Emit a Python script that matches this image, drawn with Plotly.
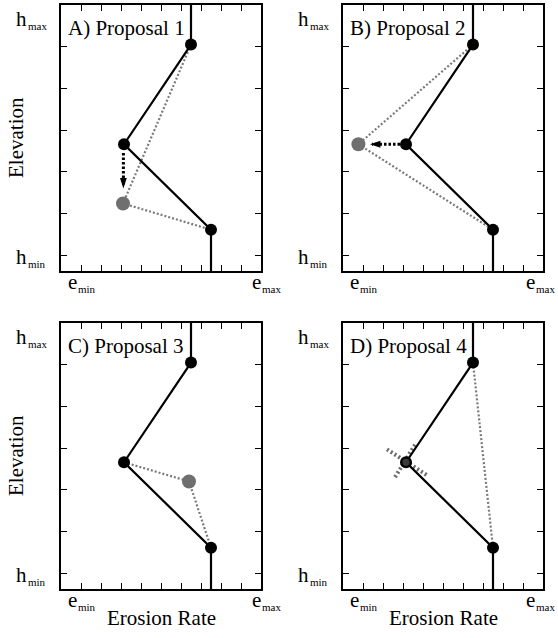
import plotly.graph_objects as go

# ---------------- data ----------------
x_ticks = [1, 2, 3, 4, 5, 6, 7, 8, 9]
y_ticks = [0, 1, 2, 3, 4, 5]
x_range = [0, 10]
y_range = [-0.38, 6.0]

# current erosion-rate profile (same in all panels): extends to plot edges
profile_e = [6.5, 6.5, 3.15, 7.5, 7.5]
profile_h = [6.0, 5.05, 2.66, 0.61, -0.38]
nodes_e = [6.5, 3.15, 7.5]
nodes_h = [5.05, 2.66, 0.61]

panel_titles = ["A) Proposal 1", "B) Proposal 2", "C) Proposal 3", "D) Proposal 4"]

# proposed profiles (grey dotted)
prop_e = [[6.5, 3.1, 7.5], [6.5, 0.77, 7.5], [3.15, 6.4, 7.5], [6.5, 7.5]]
prop_h = [[5.05, 1.24, 0.61], [5.05, 2.66, 0.61], [2.66, 2.2, 0.61], [5.05, 0.61]]
# proposed (grey) node per panel (None for panel D)
new_e = [3.1, 0.77, 6.4, None]
new_h = [1.24, 2.66, 2.2, None]

# move arrows (panel A: down, panel B: left)
arrow_e = [[3.12, 3.12], [2.85, 1.45]]
arrow_h = [[2.45, 1.68], [2.66, 2.66]]
arrow_head_e = [3.12, 1.35]
arrow_head_h = [1.6, 2.66]
arrow_angle = [180, 270]

# panel D: node removal cross
cross1_e = [2.2, 4.2]
cross1_h = [2.97, 2.35]
cross2_e = [3.6, 2.6]
cross2_h = [3.08, 2.3]

# tick label texts
e_lo, e_hi, h_lo, h_hi = ("e", "min"), ("e", "max"), ("h", "min"), ("h", "max")

# ---------------- layout helpers ----------------
W, H = 558, 638
SERIF = "Liberation Serif"
BLACK = "#000000"
GREY = "#6f6f6f"

# panel boxes in pixels (left, right, top, bottom)
boxes = [(61, 261, 5, 271), (343, 543, 5, 271),
         (61, 261, 323, 589), (343, 543, 323, 589)]


def px(xp):
    return xp / W


def py(yp):
    return 1 - yp / H


fig = go.Figure()


def label(main, sub, x_right, y_main, y_sub):
    fig.add_annotation(text=main, xref="paper", yref="paper", x=px(x_right), y=py(y_main),
                       xanchor="right", yanchor="middle", showarrow=False, borderpad=0,
                       font=dict(family=SERIF, size=21, color=BLACK))
    fig.add_annotation(text=sub, xref="paper", yref="paper", x=px(x_right - 1), y=py(y_sub),
                       xanchor="left", yanchor="middle", showarrow=False, borderpad=0,
                       font=dict(family=SERIF, size=11, color=BLACK))


for i, (l, r, t, b) in enumerate(boxes):
    n = "" if i == 0 else str(i + 1)
    xa, ya = "x" + n, "y" + n
    axis_common = dict(showgrid=False, zeroline=False, showline=True, linecolor=BLACK,
                       linewidth=2, mirror="ticks", ticks="inside", ticklen=6,
                       tickwidth=1.3, tickcolor=BLACK, showticklabels=False, fixedrange=True)
    fig.layout["xaxis" + n] = dict(domain=[px(l), px(r)], range=x_range, tickvals=x_ticks,
                                   anchor=ya, **axis_common)
    fig.layout["yaxis" + n] = dict(domain=[py(b), py(t)], range=y_range, tickvals=y_ticks,
                                   anchor=xa, **axis_common)

    # grey dotted proposal
    fig.add_trace(go.Scatter(x=prop_e[i], y=prop_h[i], xaxis=xa, yaxis=ya, mode="lines",
                             line=dict(color="#7a7a7a", width=2.2, dash="2px,2px"),
                             hoverinfo="skip", showlegend=False))
    if i == 3:
        for ce, ch in ((cross1_e, cross1_h), (cross2_e, cross2_h)):
            fig.add_trace(go.Scatter(x=ce, y=ch, xaxis=xa, yaxis=ya, mode="lines",
                                     line=dict(color="#6a6a6a", width=4, dash="2px,2.5px"),
                                     hoverinfo="skip", showlegend=False))
    # solid current profile
    fig.add_trace(go.Scatter(x=profile_e, y=profile_h, xaxis=xa, yaxis=ya, mode="lines",
                             line=dict(color=BLACK, width=2.2), hoverinfo="skip",
                             showlegend=False))
    # arrows
    if i < 2:
        fig.add_trace(go.Scatter(x=arrow_e[i], y=arrow_h[i], xaxis=xa, yaxis=ya, mode="lines",
                                 line=dict(color=BLACK, width=3, dash="2.5px,2px"),
                                 hoverinfo="skip", showlegend=False))
        fig.add_trace(go.Scatter(x=[arrow_head_e[i]], y=[arrow_head_h[i]], xaxis=xa, yaxis=ya,
                                 mode="markers",
                                 marker=dict(symbol="arrow", size=11, color=BLACK,
                                             angle=arrow_angle[i], line=dict(width=0)),
                                 hoverinfo="skip", showlegend=False))
    # grey proposed node
    if new_e[i] is not None:
        fig.add_trace(go.Scatter(x=[new_e[i]], y=[new_h[i]], xaxis=xa, yaxis=ya, mode="markers",
                                 marker=dict(size=14, color=GREY, line=dict(width=0)),
                                 hoverinfo="skip", showlegend=False))
    # black nodes
    fig.add_trace(go.Scatter(x=nodes_e, y=nodes_h, xaxis=xa, yaxis=ya, mode="markers",
                             marker=dict(size=12, color=BLACK, line=dict(width=0)),
                             hoverinfo="skip", showlegend=False))
    if i == 3:
        fig.add_trace(go.Scatter(x=[nodes_e[1]], y=[nodes_h[1]], xaxis=xa, yaxis=ya,
                                 mode="markers",
                                 marker=dict(size=7, color="#3a3a3a", line=dict(width=0)),
                                 hoverinfo="skip", showlegend=False))

    # panel title
    fig.add_annotation(text=panel_titles[i], xref="paper", yref="paper", x=px(l + 5),
                       y=py(t + 23), xanchor="left", yanchor="middle", showarrow=False,
                       font=dict(family=SERIF, size=21, color=BLACK))
    # tick labels (main letter + small subscript)
    tick0 = b - 15
    label(e_lo[0], e_lo[1], l + 17, b + 11, b + 18)
    label(e_hi[0], e_hi[1], min(r + 1, W - 22), b + 11, b + 18)
    label(h_lo[0], h_lo[1], l - 33, tick0 + 1, tick0 + 8)
    label(h_hi[0], h_hi[1], l - 33, t + 14, t + 21)

# axis titles
for (l, r, t, b) in (boxes[0], boxes[2]):
    fig.add_annotation(text="Elevation", xref="paper", yref="paper", x=px(16),
                       y=py((t + b) / 2), xanchor="center", yanchor="middle", textangle=-90,
                       showarrow=False, font=dict(family=SERIF, size=21, color=BLACK))
for (l, r, t, b) in (boxes[2], boxes[3]):
    fig.add_annotation(text="Erosion Rate", xref="paper", yref="paper", x=px((l + r) / 2),
                       y=py(618), xanchor="center", yanchor="middle",
                       showarrow=False, font=dict(family=SERIF, size=21, color=BLACK))

fig.update_layout(width=W, height=H, autosize=False, margin=dict(l=0, r=0, t=0, b=0),
                  paper_bgcolor="white", plot_bgcolor="white", showlegend=False)

fig.write_html("out.html", config={"displayModeBar": False})
